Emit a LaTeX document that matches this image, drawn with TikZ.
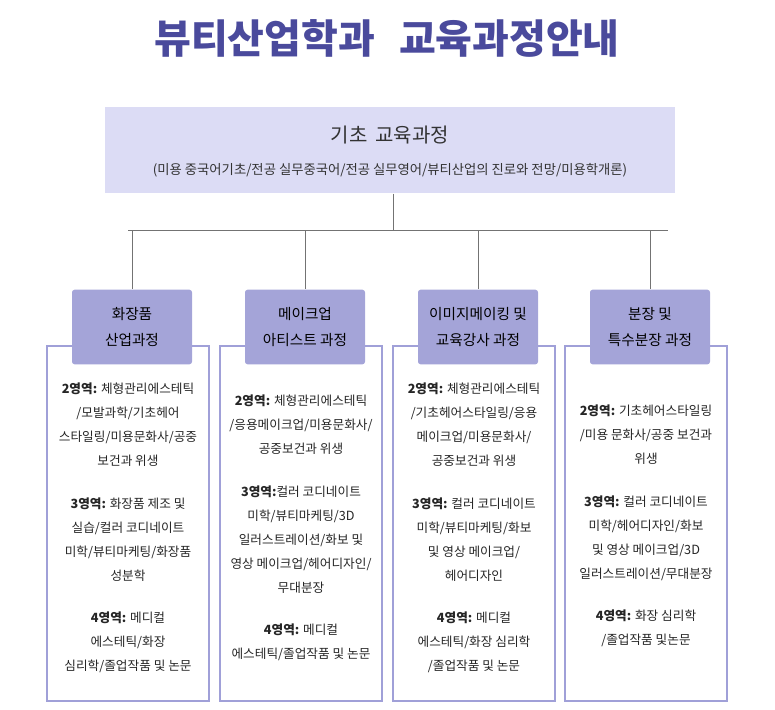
\documentclass[tikz,border=0pt]{standalone}
\usepackage{fontspec}
\setmainfont{Noto Sans CJK KR}
\usetikzlibrary{positioning}
\definecolor{titlecol}{HTML}{4A4A9C}
\definecolor{headfill}{HTML}{A4A4D8}
\definecolor{topfill}{HTML}{DCDCF5}
\definecolor{boxline}{HTML}{A0A0D8}
\tikzstyle{headbox}=[rectangle,rounded corners=2pt,fill=headfill,minimum width=90pt,minimum height=56pt,align=center,font=\fontsize{11}{19}\selectfont]
\tikzstyle{bodybox}=[rectangle,draw=boxline,line width=1.5pt,fill=white,minimum width=122pt,minimum height=266pt,anchor=north]
\tikzstyle{bodytext}=[align=center,font=\fontsize{9.5}{18}\selectfont,text=black!85]
\tikzstyle{tree}=[draw=black!55,line width=0.6pt]
\newcommand{\yr}[1]{\textbf{#1}}
\begin{document}
\begin{tikzpicture}[x=0.75pt,y=-0.75pt]
            \useasboundingbox (0,0) rectangle (775,710);
            % title
            \node[text=titlecol,font=\fontsize{30}{36}\bfseries] (title) at (387,38) {뷰티산업학과\hspace{0.6em}교육과정안내};

            % top box
            \node[rectangle,fill=topfill,minimum width=427pt,minimum height=65pt] (top) at (390,150) {};
            \node[font=\fontsize{15}{18}\selectfont,text=black!80] (toptitle) at (390,135) {기초\hspace{0.4em}교육과정};
            \node[font=\fontsize{10}{12}\selectfont,text=black!80] (topsub) at (390,170) {(미용 중국어기초/전공 실무중국어/전공 실무영어/뷰티산업의 진로와 전망/미용학개론)};

            % tree lines
            \coordinate (split) at (393,230);
            \coordinate (c1) at (128,230);
            \coordinate (c4) at (668,230);
            \draw[tree] (top.south -| split) -- (split);
            \draw[tree] (c1) -- (c4);

            % body boxes
            \node[bodybox] (b1) at (128,345) {};
            \node[bodybox] (b2) at (301,345) {};
            \node[bodybox] (b3) at (474,345) {};
            \node[bodybox] (b4) at (646,345) {};

            % header boxes
            \node[headbox] (h1) at (132,327) {화장품\\산업과정};
            \node[headbox] (h2) at (305,327) {메이크업\\아티스트 과정};
            \node[headbox] (h3) at (478,327) {이미지메이킹 및\\교육강사 과정};
            \node[headbox] (h4) at (650,327) {분장 및\\특수분장 과정};

            \foreach \h in {h1,h2,h3,h4}
                \draw[tree] (\h.north |- c1) -- (\h.north);

            % body texts
            \node[bodytext,anchor=north] (t1) at (128,378) {\yr{2영역:} 체형관리에스테틱\\/모발과학/기초헤어\\스타일링/미용문화사/공중\\보건과 위생\\[14pt]
                \yr{3영역:} 화장품 제조 및\\실습/컬러 코디네이트\\미학/뷰티마케팅/화장품\\성분학\\[14pt]
                \yr{4영역:} 메디컬\\에스테틱/화장\\심리학/졸업작품 및 논문};
            \node[bodytext,anchor=north] (t2) at (301,390) {\yr{2영역:} 체형관리에스테틱\\/응용메이크업/미용문화사/\\공중보건과 위생\\[14pt]
                \yr{3영역:}컬러 코디네이트\\미학/뷰티마케팅/3D\\일러스트레이션/화보 및\\영상 메이크업/헤어디자인/\\무대분장\\[14pt]
                \yr{4영역:} 메디컬\\에스테틱/졸업작품 및 논문};
            \node[bodytext,anchor=north] (t3) at (474,378) {\yr{2영역:} 체형관리에스테틱\\/기초헤어스타일링/응용\\메이크업/미용문화사/\\공중보건과 위생\\[14pt]
                \yr{3영역:} 컬러 코디네이트\\미학/뷰티마케팅/화보\\및 영상 메이크업/\\헤어디자인\\[14pt]
                \yr{4영역:} 메디컬\\에스테틱/화장 심리학\\/졸업작품 및 논문};
            \node[bodytext,anchor=north] (t4) at (646,400) {\yr{2영역:} 기초헤어스타일링\\/미용 문화사/공중 보건과\\위생\\[14pt]
                \yr{3영역:} 컬러 코디네이트\\미학/헤어디자인/화보\\및 영상 메이크업/3D\\일러스트레이션/무대분장\\[14pt]
                \yr{4영역:} 화장 심리학\\/졸업작품 및논문};
\end{tikzpicture}
\end{document}
